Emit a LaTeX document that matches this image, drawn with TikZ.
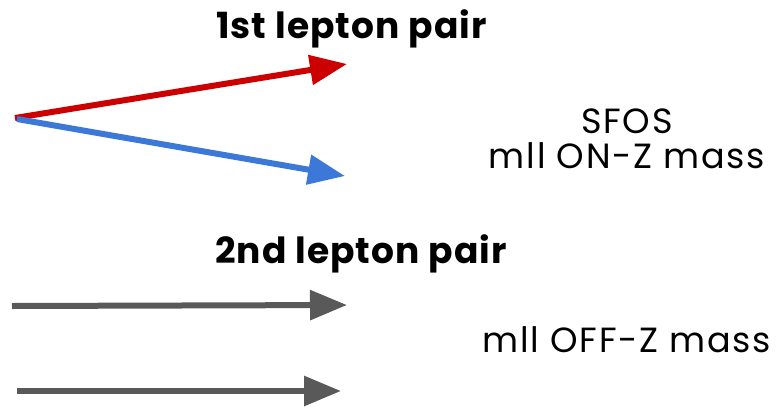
\documentclass[tikz,border=0pt]{standalone}
\usepackage{fontspec}
\setmainfont{Poppins}
\usepackage{tikz}
\usetikzlibrary{arrows.meta}
\usetikzlibrary{positioning}
\definecolor{leptonred}{HTML}{CC0000}
\definecolor{leptonblue}{HTML}{3C78D8}
\definecolor{leptongray}{HTML}{595959}
\tikzset{
    lepton/.style={
           line width=6pt,
           -{Triangle[length=37pt,width=29pt]},
           },
    pairtitle/.style={
           font=\bfseries\fontsize{36}{40}\selectfont\addfontfeature{LetterSpace=3},
           inner sep=0pt,
           anchor=base west,
           },
    masstext/.style={
           font=\fontsize{35}{40}\selectfont\addfontfeature{LetterSpace=5},
           inner sep=0pt,
           align=center,
           },
}
\begin{document}
\begin{tikzpicture}[x=1pt,y=-1pt]
 \useasboundingbox (0,0) rectangle (778,407);

 % titles of the two pairs
 \node[pairtitle] (Pair1) at (216,38) {1st lepton pair};
 \node[pairtitle] (Pair2) at (215,263) {2nd lepton pair};

 % mass conditions
 \node[masstext, anchor=base] (Sfos) at (627,133) {SFOS};
 \node[masstext, anchor=base] (OnZ) at (627,168) {mll ON-Z mass};
 \node[masstext, anchor=base] (OffZ) at (627,352) {mll OFF-Z mass};

 % arrow ends
 \coordinate (Vtx) at (15,118);
 \coordinate (RedEnd) at (347,64);
 \coordinate (BlueStart) at (17,119);
 \coordinate (BlueEnd) at (345,176);
 \coordinate (Gray1Start) at (12,306);
 \coordinate (Gray1End) at (347,305);
 \coordinate (Gray2Start) at (17,391);
 \coordinate (Gray2End) at (341,391);

 % draw the leptons
 \draw[lepton, leptonred] (Vtx) -- (RedEnd);
 \draw[lepton, leptonblue] (BlueStart) -- (BlueEnd);
 \draw[lepton, leptongray] (Gray1Start) -- (Gray1End);
 \draw[lepton, leptongray] (Gray2Start) -- (Gray2End);

\end{tikzpicture}
\end{document}
